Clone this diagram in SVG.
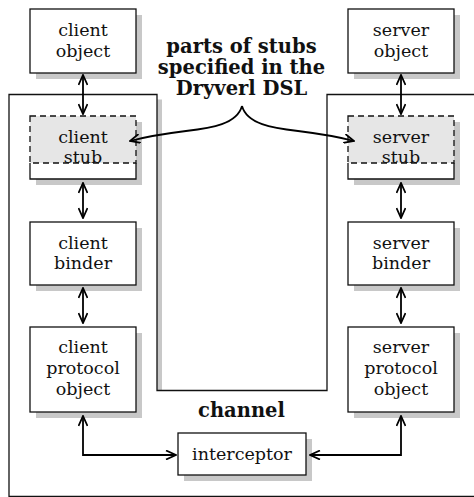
<svg xmlns="http://www.w3.org/2000/svg" width="474" height="497" viewBox="0 0 474 497">
  <style>
    .shadow { fill: #c8c8c8; stroke: none; }
    .box { fill: #ffffff; stroke: #111; stroke-width: 1.3; }
    .stubfill { fill: #e6e6e6; stroke: #111; stroke-width: 1.3; stroke-dasharray: 6 4; }
    .solid { fill: none; stroke: #111; stroke-width: 1.3; }
    text { font-family: 'DejaVu Serif', serif; fill: #111; text-anchor: middle; }
    .lbl { font-size: 17.5px; }
    .title { font-size: 19.5px; font-weight: bold; }
    .conn { fill: none; stroke: #000; stroke-width: 1.8; }
  </style>
  <defs>
    <marker id="head" viewBox="0 0 12 10" refX="11" refY="5" markerWidth="12" markerHeight="10" markerUnits="userSpaceOnUse" orient="auto-start-reverse">
      <path d="M1,0.5 L11,5 L1,9.5" fill="none" stroke="#000" stroke-width="1.8"/>
    </marker>
  </defs>

  <rect width="474" height="497" fill="#ffffff"/>

  <!-- channel outline (U shape) with drop shadow -->
  <g id="channel">
    <polygon class="shadow" points="14,99.5 162,99.5 162,395.5 332,395.5 332,99.5 485,99.5 485,501.5 14,501.5"/>
    <polygon class="box" points="9,94.5 157,94.5 157,390.5 327,390.5 327,94.5 480,94.5 480,496.5 9,496.5"/>
    <text class="title" x="241.5" y="417">channel</text>
  </g>

  <!-- client side -->
  <g id="client-object">
    <rect class="shadow" x="36" y="15" width="106" height="64"/>
    <rect class="box" x="30" y="9" width="106" height="64"/>
    <text class="lbl" x="83" y="36">client</text>
    <text class="lbl" x="83" y="57">object</text>
  </g>
  <g id="client-stub">
    <rect class="shadow" x="36" y="122" width="106" height="63"/>
    <rect x="30" y="116" width="106" height="63" fill="#fff"/>
    <rect class="stubfill" x="30" y="116" width="106" height="47"/>
    <path class="solid" d="M30,163 V179 H136 V163"/>
    <text class="lbl" x="83" y="143">client</text>
    <text class="lbl" x="83" y="163">stub</text>
  </g>
  <g id="client-binder">
    <rect class="shadow" x="36" y="228" width="106" height="63"/>
    <rect class="box" x="30" y="222" width="106" height="63"/>
    <text class="lbl" x="83" y="248.5">client</text>
    <text class="lbl" x="83" y="269">binder</text>
  </g>
  <g id="client-protocol">
    <rect class="shadow" x="36" y="333" width="106" height="85"/>
    <rect class="box" x="30" y="327" width="106" height="85"/>
    <text class="lbl" x="83" y="353">client</text>
    <text class="lbl" x="83" y="374">protocol</text>
    <text class="lbl" x="83" y="395">object</text>
  </g>

  <!-- server side -->
  <g id="server-object">
    <rect class="shadow" x="354" y="15" width="106" height="64"/>
    <rect class="box" x="348" y="9" width="106" height="64"/>
    <text class="lbl" x="401" y="36">server</text>
    <text class="lbl" x="401" y="57">object</text>
  </g>
  <g id="server-stub">
    <rect class="shadow" x="354" y="122" width="106" height="63"/>
    <rect x="348" y="116" width="106" height="63" fill="#fff"/>
    <rect class="stubfill" x="348" y="116" width="106" height="47"/>
    <path class="solid" d="M348,163 V179 H454 V163"/>
    <text class="lbl" x="401" y="143">server</text>
    <text class="lbl" x="401" y="163">stub</text>
  </g>
  <g id="server-binder">
    <rect class="shadow" x="354" y="228" width="106" height="63"/>
    <rect class="box" x="348" y="222" width="106" height="63"/>
    <text class="lbl" x="401" y="248.5">server</text>
    <text class="lbl" x="401" y="269">binder</text>
  </g>
  <g id="server-protocol">
    <rect class="shadow" x="354" y="333" width="106" height="85"/>
    <rect class="box" x="348" y="327" width="106" height="85"/>
    <text class="lbl" x="401" y="353">server</text>
    <text class="lbl" x="401" y="374">protocol</text>
    <text class="lbl" x="401" y="395">object</text>
  </g>

  <!-- interceptor -->
  <g id="interceptor">
    <rect class="shadow" x="184" y="439" width="128" height="42"/>
    <rect class="box" x="178" y="433" width="128" height="42"/>
    <text class="lbl" x="242" y="460">interceptor</text>
  </g>

  <!-- annotation -->
  <g id="dsl-note">
    <text class="title" x="241.5" y="53">parts of stubs</text>
    <text class="title" x="241.5" y="73.5">specified in the</text>
    <text class="title" x="241.5" y="94.5">Dryverl DSL</text>
  </g>

  <!-- connectors -->
  <g id="connectors">
    <line class="conn" x1="83" y1="75" x2="83" y2="114" marker-start="url(#head)" marker-end="url(#head)"/>
    <line class="conn" x1="83" y1="183" x2="83" y2="218" marker-start="url(#head)" marker-end="url(#head)"/>
    <line class="conn" x1="83" y1="288" x2="83" y2="323" marker-start="url(#head)" marker-end="url(#head)"/>
    <line class="conn" x1="401" y1="75" x2="401" y2="114" marker-start="url(#head)" marker-end="url(#head)"/>
    <line class="conn" x1="401" y1="183" x2="401" y2="218" marker-start="url(#head)" marker-end="url(#head)"/>
    <line class="conn" x1="401" y1="288" x2="401" y2="323" marker-start="url(#head)" marker-end="url(#head)"/>
    <path class="conn" d="M83,416 V455 H176" marker-start="url(#head)" marker-end="url(#head)"/>
    <path class="conn" d="M310,455 H401 V416" marker-start="url(#head)" marker-end="url(#head)"/>
    <path class="conn" d="M242,106 C237,124 212,128 186,131 C162,134 145,137 130,141" marker-end="url(#head)"/>
    <path class="conn" d="M242,106 C247,124 272,128 298,131 C322,134 339,137 354,141" marker-end="url(#head)"/>
  </g>
</svg>
